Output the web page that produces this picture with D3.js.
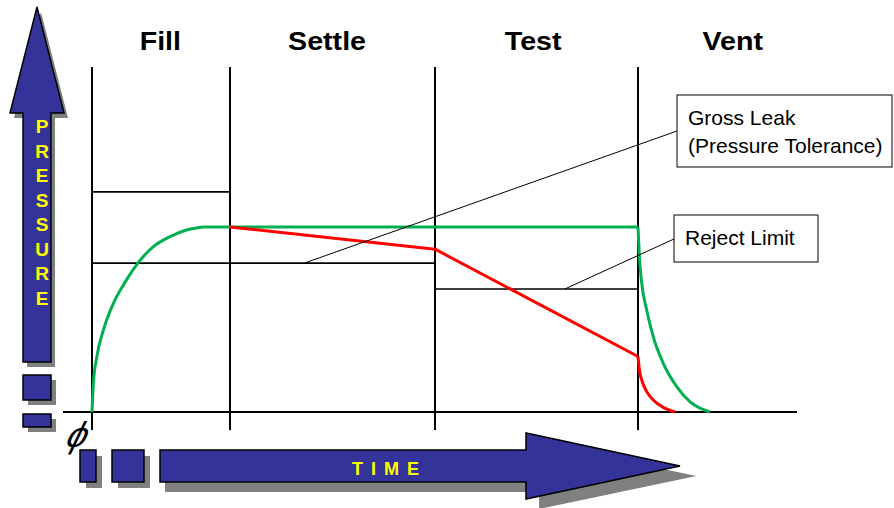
<!DOCTYPE html>
<html>
<head>
<meta charset="utf-8">
<script src="https://cdn.jsdelivr.net/npm/d3@7"></script>
<style>
	body { margin: 0; background: #fff; }
	svg { display: block; }
	text { font-family: "Liberation Sans", Arial, sans-serif; }
</style>
</head>
<body>
<div id="chart-area"></div>
<script>
/******************************
*	DATA (time in s, pressure in %)   *
******************************/
const phases = ["Fill", "Settle", "Test", "Vent"];
const phaseStart = [0, 2, 5, 8];
const phaseLabelAt = [0.99, 3.42, 6.45, 9.37];
const timeEnd = 10.3;

const fillHigh = 119;      // upper fill limit
const fillLow = 80.5;      // pressure tolerance (gross leak)
const rejectLimit = 66.5;

// good part: rise, hold, vent
const greenFill = [[0, 0], [0.02, 15.4], [0.07, 29.8], [0.165, 44.3], [0.31, 58.7], [0.5, 71.4],
	[0.67, 80.7], [0.89, 89.4], [1.13, 94.8], [1.37, 98.4], [1.61, 100]];
const greenHold = [[1.61, 100], [8, 100]];
const greenVent = [[8, 100], [8.02, 84], [8.054, 69.6], [8.126, 55.1], [8.22, 40.7], [8.366, 26.3],
	[8.56, 13.7], [8.75, 5.6], [9.04, 0]];

// leaking part: drop during settle/test, then vent
const redLeak = [[2, 100], [5, 88], [8, 30]];
const redVent = [[8, 30], [8.02, 22.7], [8.054, 17.3], [8.126, 11], [8.22, 6.5], [8.366, 2.5], [8.535, 0]];

// callouts: text lines, and where the leader touches its limit line
const grossLeakText = ["Gross Leak", "(Pressure Tolerance)"];
const grossLeakAt = [3.09, fillLow];
const rejectText = ["Reject Limit"];
const rejectAt = [6.92, rejectLimit];

/******************************
*	DIMENSIONS AND SCALES	  *
******************************/
const W = 894, H = 508;
const navy = "#333399", shadow = "#808080", yellow = "#ffff00";

const svg = d3.select("#chart-area")
	.append("svg")
		.attr("width", W)
		.attr("height", H);

const x = d3.scaleLinear()
	.domain([0, 2, 5, 8, timeEnd])
	.range([92, 230, 435, 638, 797]);

const y = d3.scaleLinear()
	.domain([0, 100])
	.range([412, 227]);

/******************************
*	PRESSURE ARROW (y axis)	  *
******************************/
const upArrow = [[37, 7], [64, 113], [51, 113], [51, 362], [23, 362], [23, 113], [10, 113]];
const upBlocks = [[23, 375, 28, 25], [23, 414, 28, 13]];

svg.append("polygon")
	.attr("points", upArrow.map(p => [p[0] + 4, p[1] + 5].join(",")).join(" "))
	.attr("fill", shadow);
svg.append("polygon")
	.attr("points", upArrow.map(p => p.join(",")).join(" "))
	.attr("fill", navy).attr("stroke", "#000").attr("stroke-width", 1.5);

upBlocks.forEach(b => {
	svg.append("rect").attr("x", b[0] + 5).attr("y", b[1] + 5)
		.attr("width", b[2]).attr("height", b[3]).attr("fill", shadow);
	svg.append("rect").attr("x", b[0]).attr("y", b[1])
		.attr("width", b[2]).attr("height", b[3])
		.attr("fill", navy).attr("stroke", "#000").attr("stroke-width", 1.5);
});

svg.append("g").selectAll("text")
	.data("PRESSURE".split(""))
	.enter().append("text")
		.attr("x", 42)
		.attr("y", (d, i) => 133 + i * 24.5)
		.attr("text-anchor", "middle")
		.attr("font-size", 19)
		.attr("font-weight", "bold")
		.attr("fill", yellow)
		.text(d => d);

/******************************
*	TIME ARROW (x axis)		  *
******************************/
const timeBlocks = [[80, 450, 16, 32], [112, 450, 32, 32]];
const rightArrow = [[160, 450], [526, 450], [526, 433], [680, 466], [526, 499], [526, 482], [160, 482]];

timeBlocks.forEach(b => {
	svg.append("rect").attr("x", b[0] + 6).attr("y", b[1] + 6)
		.attr("width", b[2]).attr("height", b[3]).attr("fill", shadow);
	svg.append("rect").attr("x", b[0]).attr("y", b[1])
		.attr("width", b[2]).attr("height", b[3])
		.attr("fill", navy).attr("stroke", "#000").attr("stroke-width", 1.5);
});

svg.append("polygon")
	.attr("points", rightArrow.map(p => [165 + (p[0] - 160) * 1.022, p[1] + 10].join(",")).join(" "))
	.attr("fill", shadow);
svg.append("polygon")
	.attr("points", rightArrow.map(p => p.join(",")).join(" "))
	.attr("fill", navy).attr("stroke", "#000").attr("stroke-width", 1.5);

svg.append("text")
	.attr("x", 352).attr("y", 475)
	.attr("font-size", 18)
	.attr("font-weight", "bold")
	.attr("letter-spacing", 8)
	.attr("fill", yellow)
	.text("TIME");

/******************************
*	GRID: AXIS, PHASES, LIMITS *
******************************/
// time axis
svg.append("line")
	.attr("x1", x(-0.42)).attr("x2", x(timeEnd))
	.attr("y1", y(0)).attr("y2", y(0))
	.attr("stroke", "#000").attr("stroke-width", 2);

// zero mark
svg.append("text")
	.attr("transform", "translate(73,447) skewX(-26)")
	.attr("text-anchor", "middle")
	.attr("font-family", "DejaVu Sans, sans-serif")
	.attr("font-size", 36)
	.text("ϕ");

// phase boundaries
svg.append("g").selectAll("line")
	.data(phaseStart)
	.enter().append("line")
		.attr("x1", d => x(d)).attr("x2", d => x(d))
		.attr("y1", y(186.5)).attr("y2", y(-9.7))
		.attr("stroke", "#000").attr("stroke-width", 2);

// phase titles
svg.append("g").selectAll("text")
	.data(phases)
	.enter().append("text")
		.attr("transform", (d, i) => "translate(" + x(phaseLabelAt[i]) + ",50) scale(1.1,1)")
		.attr("text-anchor", "middle")
		.attr("font-size", 26)
		.attr("font-weight", "bold")
		.text(d => d);

// limit lines
const limits = [
	[phaseStart[0], phaseStart[1], fillHigh],
	[phaseStart[0], phaseStart[2], fillLow],
	[phaseStart[2], phaseStart[3], rejectLimit]
];
svg.append("g").selectAll("line")
	.data(limits)
	.enter().append("line")
		.attr("x1", d => x(d[0])).attr("x2", d => x(d[1]))
		.attr("y1", d => y(d[2])).attr("y2", d => y(d[2]))
		.attr("stroke", "#000").attr("stroke-width", 1.6);

/******************************
*	PRESSURE CURVES			  *
******************************/
const curved = d3.line().x(d => x(d[0])).y(d => y(d[1])).curve(d3.curveMonotoneX);
const straight = d3.line().x(d => x(d[0])).y(d => y(d[1]));

[[greenFill, curved], [greenHold, straight], [greenVent, curved]].forEach(s => {
	svg.append("path").attr("d", s[1](s[0]))
		.attr("fill", "none").attr("stroke", "#00b050")
		.attr("stroke-width", 3).attr("stroke-linejoin", "round");
});
[[redLeak, straight], [redVent, curved]].forEach(s => {
	svg.append("path").attr("d", s[1](s[0]))
		.attr("fill", "none").attr("stroke", "#ff0000")
		.attr("stroke-width", 3).attr("stroke-linejoin", "round");
});

/******************************
*	CALLOUTS				  *
******************************/
function callout(box, anchor, target, lines) {
	svg.append("line")
		.attr("x1", anchor[0]).attr("y1", anchor[1])
		.attr("x2", x(target[0])).attr("y2", y(target[1]))
		.attr("stroke", "#000").attr("stroke-width", 1);
	svg.append("rect")
		.attr("x", box[0]).attr("y", box[1])
		.attr("width", box[2]).attr("height", box[3])
		.attr("fill", "#fff").attr("stroke", "#000").attr("stroke-width", 1);
	svg.append("g").selectAll("text")
		.data(lines)
		.enter().append("text")
			.attr("x", box[0] + 11)
			.attr("y", (d, i) => box[1] + 30 + i * 28)
			.attr("font-size", 21)
			.text(d => d);
}

callout([677, 95, 215, 72], [677, 131], grossLeakAt, grossLeakText);
callout([674, 215, 144, 47], [674, 239], rejectAt, rejectText);
</script>
</body>
</html>
